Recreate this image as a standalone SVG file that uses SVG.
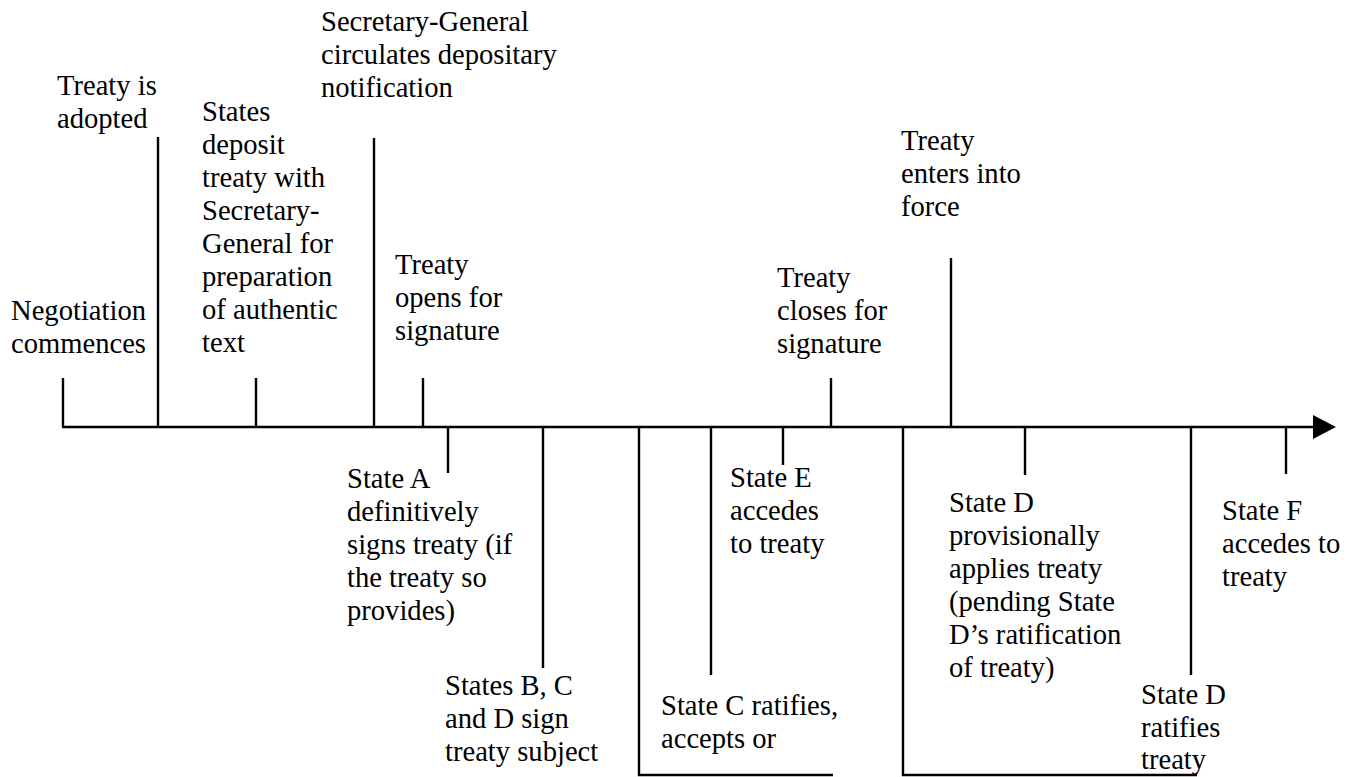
<svg xmlns="http://www.w3.org/2000/svg" width="1360" height="777" viewBox="0 0 1360 777">
<defs>
<style>
text{font-family:'Liberation Serif','Times New Roman',serif;font-size:28.6px;fill:#000}
.k{stroke:#000;stroke-width:2.4;fill:none}
</style>
<marker id="arr" markerUnits="userSpaceOnUse" markerWidth="24" markerHeight="26" refX="0" refY="12" orient="auto">
<path d="M0,0 L23,12 L0,24 Z" fill="#000"/>
</marker>
</defs>
<rect width="1360" height="777" fill="#fff"/>
<g id="connectors">
<line class="k" x1="62" y1="427" x2="1313" y2="427" marker-end="url(#arr)"/>
</g>
<g id="negotiation">
<line class="k" x1="63" y1="378" x2="63" y2="427"/>
<text x="11" y="320">Negotiation</text>
<text x="11" y="353">commences</text>
</g>
<g id="adopted">
<line class="k" x1="158" y1="137" x2="158" y2="427"/>
<text x="57" y="95">Treaty is</text>
<text x="57" y="128">adopted</text>
</g>
<g id="deposit">
<line class="k" x1="256" y1="378" x2="256" y2="427"/>
<text x="202" y="121">States</text>
<text x="202" y="154">deposit</text>
<text x="202" y="187">treaty with</text>
<text x="202" y="220">Secretary-</text>
<text x="202" y="253">General for</text>
<text x="202" y="286">preparation</text>
<text x="202" y="319">of authentic</text>
<text x="202" y="352">text</text>
</g>
<g id="circulates">
<line class="k" x1="374" y1="138" x2="374" y2="427"/>
<text x="321" y="31">Secretary-General</text>
<text x="321" y="64">circulates depositary</text>
<text x="321" y="97">notification</text>
</g>
<g id="opens">
<line class="k" x1="423" y1="378" x2="423" y2="427"/>
<text x="395" y="274">Treaty</text>
<text x="395" y="307">opens for</text>
<text x="395" y="340">signature</text>
</g>
<g id="closes">
<line class="k" x1="831" y1="378" x2="831" y2="427"/>
<text x="777" y="287">Treaty</text>
<text x="777" y="320">closes for</text>
<text x="777" y="353">signature</text>
</g>
<g id="force">
<line class="k" x1="951" y1="258" x2="951" y2="427"/>
<text x="901" y="150">Treaty</text>
<text x="901" y="183">enters into</text>
<text x="901" y="216">force</text>
</g>
<g id="stateA">
<line class="k" x1="448" y1="427" x2="448" y2="473"/>
<text x="347" y="488">State A</text>
<text x="347" y="521">definitively</text>
<text x="347" y="554">signs treaty (if</text>
<text x="347" y="587">the treaty so</text>
<text x="347" y="620">provides)</text>
</g>
<g id="statesBCD">
<line class="k" x1="543" y1="427" x2="543" y2="668"/>
<text x="445" y="695">States B, C</text>
<text x="445" y="728">and D sign</text>
<text x="445" y="761">treaty subject</text>
</g>
<g id="periodC">
<polyline class="k" points="639,427 639,775 833,775"/>
</g>
<g id="stateC">
<line class="k" x1="711" y1="427" x2="711" y2="675"/>
<text x="661" y="715">State C ratifies,</text>
<text x="661" y="748">accepts or</text>
</g>
<g id="stateE">
<line class="k" x1="783" y1="427" x2="783" y2="465"/>
<text x="730" y="487">State E</text>
<text x="730" y="520">accedes</text>
<text x="730" y="553">to treaty</text>
</g>
<g id="periodD">
<polyline class="k" points="903,427 903,775 1197,775"/>
</g>
<g id="stateDprov">
<line class="k" x1="1025" y1="427" x2="1025" y2="475"/>
<text x="949" y="512">State D</text>
<text x="949" y="545">provisionally</text>
<text x="949" y="578">applies treaty</text>
<text x="949" y="611">(pending State</text>
<text x="949" y="644">D’s ratification</text>
<text x="949" y="677">of treaty)</text>
</g>
<g id="stateDrat">
<line class="k" x1="1191" y1="427" x2="1191" y2="675"/>
<text x="1141" y="704">State D</text>
<text x="1141" y="737">ratifies</text>
<text x="1141" y="769">treaty</text>
</g>
<g id="stateF">
<line class="k" x1="1286" y1="427" x2="1286" y2="474"/>
<text x="1222" y="520">State F</text>
<text x="1222" y="553">accedes to</text>
<text x="1222" y="586">treaty</text>
</g>
</svg>
